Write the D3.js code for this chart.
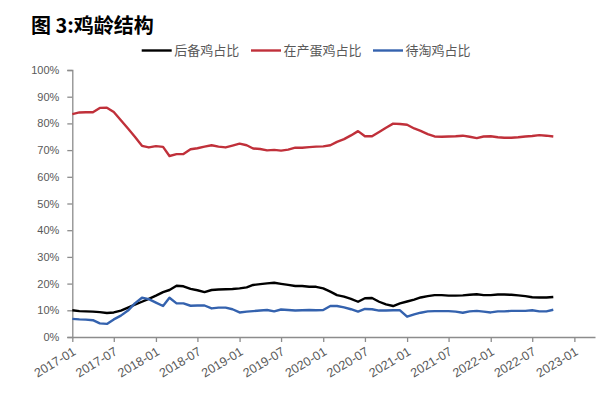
<!DOCTYPE html>
<html><head><meta charset="utf-8">
<script src="https://cdn.jsdelivr.net/npm/d3@7"></script>
<style>body{margin:0;background:#fff}svg{display:block}</style>
</head><body>
<svg id="c" width="612" height="393"></svg>
<script>
const months = ["2017-01","2017-02","2017-03","2017-04","2017-05","2017-06","2017-07","2017-08","2017-09","2017-10","2017-11","2017-12",
"2018-01","2018-02","2018-03","2018-04","2018-05","2018-06","2018-07","2018-08","2018-09","2018-10","2018-11","2018-12",
"2019-01","2019-02","2019-03","2019-04","2019-05","2019-06","2019-07","2019-08","2019-09","2019-10","2019-11","2019-12",
"2020-01","2020-02","2020-03","2020-04","2020-05","2020-06","2020-07","2020-08","2020-09","2020-10","2020-11","2020-12",
"2021-01","2021-02","2021-03","2021-04","2021-05","2021-06","2021-07","2021-08","2021-09","2021-10","2021-11","2021-12",
"2022-01","2022-02","2022-03","2022-04","2022-05","2022-06","2022-07","2022-08","2022-09","2022-10"];
const reserve = [10.0,9.7,9.6,9.5,9.3,9.0,9.2,9.9,11.0,12.1,13.2,14.3,
15.5,16.8,17.6,19.2,19.0,18.0,17.5,16.8,17.6,17.8,17.9,18.0,
18.2,18.6,19.5,19.8,20.1,20.3,19.9,19.5,19.1,19.1,18.8,18.8,
18.2,17.0,15.7,15.1,14.3,13.2,14.5,14.6,13.2,12.2,11.6,12.6,
13.3,14.0,14.8,15.3,15.7,15.7,15.5,15.5,15.6,15.8,16.0,15.7,
15.7,15.9,15.9,15.8,15.6,15.3,14.9,14.8,14.8,15.0];
const laying = [83.5,84.1,84.2,84.2,85.8,85.9,84.3,81.2,78.1,75.0,71.6,71.0,
71.5,71.2,67.8,68.5,68.5,70.3,70.7,71.3,71.8,71.3,71.0,71.7,
72.4,71.8,70.6,70.4,69.9,70.1,69.8,70.2,70.9,70.9,71.1,71.3,
71.4,71.8,73.1,74.1,75.5,77.1,75.2,75.2,76.8,78.4,79.9,79.8,
79.5,78.1,77.2,76.0,75.1,75.0,75.1,75.2,75.4,75.0,74.5,75.1,
75.2,74.8,74.6,74.6,74.8,75.1,75.3,75.6,75.4,75.1];
const culled = [6.8,6.6,6.5,6.3,5.1,4.9,6.6,8.0,9.9,12.6,14.7,14.2,
12.9,11.6,14.7,12.6,12.6,11.7,11.8,11.8,10.7,11.0,11.0,10.4,
9.2,9.5,9.7,9.9,10.1,9.6,10.3,10.1,9.9,10.0,10.1,10.0,
10.1,11.6,11.6,11.1,10.4,9.5,10.5,10.4,9.9,9.9,10.0,10.0,
7.6,8.5,9.1,9.6,9.7,9.7,9.7,9.5,9.1,9.6,9.8,9.5,
9.2,9.6,9.6,9.8,9.8,9.8,10.0,9.6,9.6,10.2];
const seriesNames = ["后备鸡占比","在产蛋鸡占比","待淘鸡占比"];
const seriesColors = ["#000000","#C0303A","#3462AE"];
const yTicks = [0,10,20,30,40,50,60,70,80,90,100];
const title = "图 3:鸡龄结构";

const svg = d3.select("#c");
const parse = d3.timeParse("%Y-%m");
const dates = months.map(parse);
const x = d3.scaleTime().domain([parse("2017-01"), parse("2023-04")]).range([72.3, 595]);
const y = d3.scaleLinear().domain([0,100]).range([337, 70]);
const axisColor = "#8c8c8c";
const textColor = "#595959";

svg.append("text").attr("x",31).attr("y",33).text(title)
  .attr("font-family","'Noto Sans CJK SC', sans-serif").attr("font-weight",700)
  .attr("font-size",20).attr("fill","#000");

// Y axis
const ya = svg.append("g").attr("transform","translate(72.3,0)")
  .call(d3.axisLeft(y).tickValues(yTicks).tickFormat(d=>d+"%").tickSize(5).tickPadding(8));
ya.select(".domain").attr("stroke",axisColor).attr("stroke-width",1.3);
ya.selectAll(".tick line").attr("stroke",axisColor).attr("stroke-width",1.3);
ya.selectAll(".tick text").attr("fill",textColor).attr("font-size",11)
  .attr("font-family","'Liberation Sans', Arial, sans-serif");

// X axis
const xa = svg.append("g").attr("transform","translate(0,337)")
  .call(d3.axisBottom(x).ticks(d3.timeMonth.every(6)).tickFormat(d3.timeFormat("%Y-%m")).tickSize(5).tickSizeOuter(0));
xa.select(".domain").attr("stroke",axisColor).attr("stroke-width",1.3);
xa.selectAll(".tick line").attr("stroke",axisColor).attr("stroke-width",1.3);
xa.selectAll(".tick text").attr("fill",textColor).attr("font-size",12.5)
  .attr("font-family","'Liberation Sans', Arial, sans-serif")
  .attr("text-anchor","end").attr("dy",0).attr("y",0)
  .attr("transform","translate(4,17) rotate(-31)");

// lines
const allSeries = [reserve, laying, culled];
const line = d3.line().x((d,i)=>x(dates[i])).y(d=>y(d)).curve(d3.curveLinear);
[1,0,2].forEach(k=>{
  svg.append("path").datum(allSeries[k]).attr("d",line)
    .attr("fill","none").attr("stroke",seriesColors[k]).attr("stroke-width",2.4)
    .attr("stroke-linejoin","round");
});

// legend
const legendX = [141.7, 251, 373];
seriesNames.forEach((n,k)=>{
  const g = svg.append("g").attr("transform",`translate(${legendX[k]},50.5)`);
  g.append("line").attr("x1",0).attr("x2",30).attr("y1",0).attr("y2",0)
    .attr("stroke",seriesColors[k]).attr("stroke-width",2.4);
  g.append("text").attr("x",32.5).attr("y",4.6).text(n).attr("fill",textColor)
    .attr("font-size",13).attr("font-family","'Noto Sans CJK SC', sans-serif");
});
</script>
</body></html>
